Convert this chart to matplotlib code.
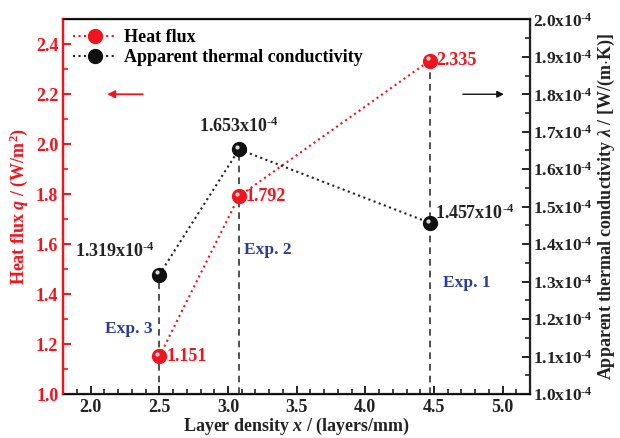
import matplotlib
matplotlib.use("Agg")
import matplotlib.pyplot as plt
from matplotlib.ticker import MultipleLocator, FuncFormatter
from matplotlib.transforms import offset_copy

plt.rcParams["font.family"] = ["Liberation Serif", "DejaVu Serif"]
plt.rcParams["font.weight"] = "bold"
plt.rcParams["mathtext.fontset"] = "custom"
plt.rcParams["mathtext.rm"] = "Liberation Serif:bold"
plt.rcParams["mathtext.it"] = "Liberation Serif:italic:bold"
plt.rcParams["mathtext.bf"] = "Liberation Serif:bold"

RED = "#f0141e"
BLUE = "#2a3b9c"

density = [2.5, 3.08, 4.47]
heat_flux = [1.151, 1.792, 2.335]
conductivity = [1.319e-4, 1.653e-4, 1.457e-4]
flux_labels = ["1.151", "1.792", "2.335"]
cond_labels = ["1.319x10$^{\\text{-}4}$", "1.653x10$^{\\text{-}4}$", "1.457x10$^{\\text{-}4}$"]
exp_names = ["Exp. 3", "Exp. 2", "Exp. 1"]

fig = plt.figure(figsize=(6.2, 4.38), dpi=100)
ax = fig.add_axes([0.102, 0.10, 0.753, 0.856])
ax2 = ax.twinx()

ax.set_xlim(1.8, 5.2)
ax.set_ylim(1.0, 2.5)
ax2.set_ylim(1.0e-4, 2.0e-4)


def to_q(c):
    return 1.0 + (c - 1.0e-4) / 1.0e-4 * 1.5


def ball(a, x, y, color, size=10, zorder=5):
    a.plot(x, y, "o", color=color, ms=size, mec=color, zorder=zorder)
    hl = offset_copy(a.transData, fig=fig, x=-1.6, y=1.6, units="points")
    a.plot(x, y, "o", color="white", ms=size * 0.3, mec="none", alpha=0.85,
           transform=hl, zorder=zorder + 1)


# vertical dashed guides up to the upper point
for x, q, c in zip(density, heat_flux, conductivity):
    top = max(q, to_q(c))
    ax.plot([x, x], [1.0, top], ls=(0, (4, 3)), color="#333333", lw=1.2, zorder=2)

# series
ax.plot(density, heat_flux, ls=":", color=RED, lw=1.5, zorder=3)
ax2.plot(density, conductivity, ls=":", color="#222222", lw=1.5, zorder=3)
ball(ax, density, heat_flux, RED)
ball(ax2, density, conductivity, "#111111")

for x, q, s in zip(density, heat_flux, flux_labels):
    ax.text(x + 0.05, q, s, color=RED, fontsize=13, fontweight="bold",
            va="center", ha="left", zorder=6)

cond_offsets = [(-0.03, 0.035e-4, "right", "bottom"),
                (0.0, 0.035e-4, "center", "bottom"),
                (0.04, 0.0, "left", "bottom")]
for (x, c, s), (dx, dy, ha, va) in zip(zip(density, conductivity, cond_labels), cond_offsets):
    ax2.text(x + dx, c + dy, s, color="#222222", fontsize=13, fontweight="bold",
             va=va, ha=ha, zorder=6)

exp_pos = [(2.28, 1.26), (3.29, 1.575), (4.74, 1.445)]
for (x, y), s in zip(exp_pos, exp_names):
    ax.text(x, y, s, color=BLUE, fontsize=12.5, fontweight="bold", ha="center", va="center")

# arrows
ax.annotate("", xy=(2.1, 2.2), xytext=(2.4, 2.2),
            arrowprops=dict(arrowstyle="-|>", color=RED, lw=1.3, mutation_scale=11))
ax2.annotate("", xy=(5.03, 1.8e-4), xytext=(4.69, 1.8e-4),
             arrowprops=dict(arrowstyle="-|>", color="#111111", lw=1.0, mutation_scale=10))

# legend
h1, = ax.plot([], [], ls=":", color=RED, lw=1.5, marker="o", ms=10, mec=RED)
h2, = ax.plot([], [], ls=":", color="#222222", lw=1.5, marker="o", ms=10,
              mfc="#111111", mec="#111111")
leg = ax.legend([h1, h2], ["Heat flux", "Apparent thermal conductivity"],
                loc="upper left", frameon=False, fontsize=13, handlelength=2.4,
                borderaxespad=0.15, handletextpad=0.4, labelspacing=0.15)

# axes styling
ax.spines["left"].set_color(RED)
ax.spines["left"].set_linewidth(1.6)
for sp in ["bottom", "top"]:
    ax.spines[sp].set_linewidth(1.6)
    ax.spines[sp].set_color("#222222")
ax2.spines["right"].set_linewidth(1.6)
ax2.spines["right"].set_color("#222222")
ax2.spines["left"].set_color(RED)
ax2.spines["left"].set_linewidth(1.6)

ax.xaxis.set_major_locator(MultipleLocator(0.5))
ax.xaxis.set_minor_locator(MultipleLocator(0.1))
ax.yaxis.set_major_locator(MultipleLocator(0.2))
ax.yaxis.set_minor_locator(MultipleLocator(0.1))
ax2.yaxis.set_major_locator(MultipleLocator(0.1e-4))
ax2.yaxis.set_minor_locator(MultipleLocator(0.05e-4))
ax.xaxis.set_major_formatter(FuncFormatter(lambda v, p: f"{v:.1f}"))
ax.yaxis.set_major_formatter(FuncFormatter(lambda v, p: f"{v:.1f}"))
ax2.yaxis.set_major_formatter(FuncFormatter(lambda v, p: f"{v * 1e4:.1f}x10$^{{\\text{{-}}4}}$"))

ax.tick_params(axis="x", which="both", direction="in", top=False, labelsize=13, colors="#222222")
ax.tick_params(axis="x", which="major", length=6, width=1.4)
ax.tick_params(axis="x", which="minor", length=3.5, width=1.2)
ax.tick_params(axis="y", which="both", direction="in", colors=RED, labelsize=13)
ax.tick_params(axis="y", which="major", length=6, width=1.4)
ax.tick_params(axis="y", which="minor", length=3.5, width=1.2)
ax2.tick_params(axis="y", which="both", direction="in", colors="#222222", labelsize=12.5, pad=2)
ax2.tick_params(axis="y", which="major", length=6, width=1.4)
ax2.tick_params(axis="y", which="minor", length=3.5, width=1.2)

ax.set_xlabel("Layer density $x$ / (layers/mm)", fontsize=13, fontweight="bold",
              color="#222222", labelpad=0)
ax.set_ylabel("Heat flux $q$ / (W/m$^2$)", fontsize=13, fontweight="bold", color=RED, labelpad=4)
ax2.set_ylabel("Apparent thermal conductivity $\\lambda$ / [W/(m$\\cdot$K)]", fontsize=13,
               fontweight="bold", color="#222222", labelpad=2)

fig.savefig("out.png", dpi=100)
